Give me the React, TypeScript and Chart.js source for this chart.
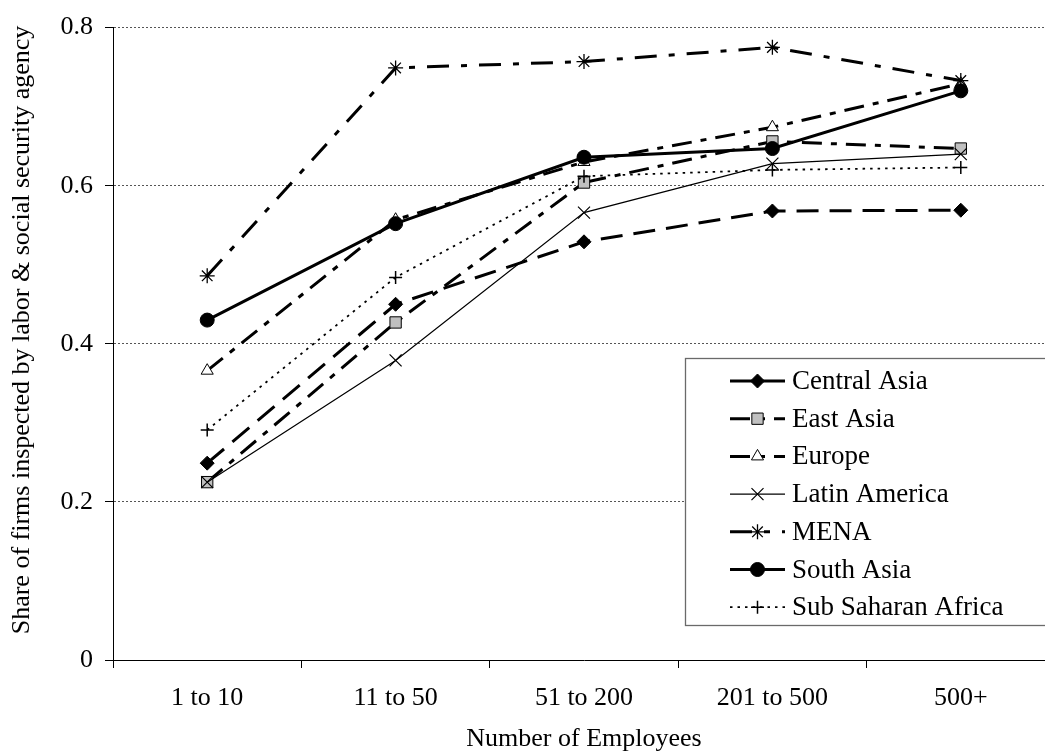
import React, { useEffect, useRef } from 'react';
import { Chart, registerables } from 'chart.js';
import { drawPoint } from 'chart.js/helpers';

Chart.register(...registerables);

const categories = ['1 to 10', '11 to 50', '51 to 200', '201 to 500', '500+'];
const yTickValues = [0, 0.2, 0.4, 0.6, 0.8];
const yTickLabels = ['0', '0.2', '0.4', '0.6', '0.8'];

const seriesNames = ['Central Asia', 'East Asia', 'Europe', 'Latin America', 'MENA', 'South Asia', 'Sub Saharan Africa'];
const centralAsia = [0.249, 0.45, 0.529, 0.568, 0.569];
const eastAsia = [0.225, 0.427, 0.604, 0.656, 0.647];
const europe = [0.366, 0.557, 0.63, 0.674, 0.729];
const latinAmerica = [0.225, 0.379, 0.566, 0.628, 0.64];
const mena = [0.486, 0.749, 0.757, 0.775, 0.733];
const southAsia = [0.43, 0.552, 0.636, 0.647, 0.72];
const subSaharanAfrica = [0.291, 0.484, 0.612, 0.62, 0.623];
const seriesValues = [centralAsia, eastAsia, europe, latinAmerica, mena, southAsia, subSaharanAfrica];

const xTitle = 'Number of Employees';
const yTitle = 'Share of firms inspected by labor & social security agency';

const FONT = "'Liberation Serif', 'Times New Roman', serif";
const FS = 26;

const styles = [
  { width: 3, dash: [22, 11], point: 'rectRot', radius: 7, fill: '#000', pbw: 1 },
  { width: 3, dash: [20, 9, 6, 9], point: 'rect', radius: 8, fill: '#c0c0c0', pbw: 1 },
  { width: 3, dash: [20, 9, 6, 9], point: 'triangle', radius: 7, fill: '#fff', pbw: 1 },
  { width: 1.2, dash: [], point: 'crossRot', radius: 8.5, fill: '#000', pbw: 1.2 },
  { width: 3, dash: [22, 12, 6, 12], point: 'star', radius: 7.5, fill: '#000', pbw: 1.3 },
  { width: 3, dash: [], point: 'circle', radius: 7, fill: '#000', pbw: 1 },
  { width: 1.8, dash: [2.5, 5], point: 'cross', radius: 6.5, fill: '#000', pbw: 1.5 },
];

const CANVAS_W = 1075;
const CANVAS_H = 755;

const yTitlePlugin = {
  id: 'yTitleText',
  afterDraw(chart: any) {
    const ctx = chart.ctx;
    ctx.save();
    ctx.translate(22, 330);
    ctx.rotate(-Math.PI / 2);
    ctx.fillStyle = '#000';
    ctx.font = `${FS}px ${FONT}`;
    ctx.textAlign = 'center';
    ctx.textBaseline = 'middle';
    ctx.fillText(yTitle, 0, 0);
    ctx.restore();
  },
};

const legendPlugin = {
  id: 'boxLegend',
  afterDraw(chart: any) {
    const ctx = chart.ctx;
    const bx = 685, by = 358, bw = 380, bh = 267;
    ctx.save();
    ctx.fillStyle = '#fff';
    ctx.fillRect(bx, by, bw, bh);
    ctx.strokeStyle = '#6a6a6a';
    ctx.lineWidth = 1.3;
    ctx.strokeRect(bx + 0.5, by + 0.5, bw, bh);
    const firstY = 381;
    const step = 37.7;
    chart.data.datasets.forEach((ds: any, i: number) => {
      const y = firstY + i * step;
      ctx.save();
      ctx.strokeStyle = '#000';
      ctx.lineWidth = ds.borderWidth;
      ctx.setLineDash(ds.borderDash || []);
      ctx.beginPath();
      ctx.moveTo(730, y);
      ctx.lineTo(785, y);
      ctx.stroke();
      ctx.restore();
      ctx.save();
      ctx.fillStyle = ds.pointBackgroundColor;
      ctx.strokeStyle = '#000';
      ctx.lineWidth = ds.pointBorderWidth;
      ctx.setLineDash([]);
      drawPoint(ctx, { pointStyle: ds.pointStyle, radius: ds.pointRadius, borderWidth: ds.pointBorderWidth, rotation: 0 }, 757.5, y);
      ctx.restore();
      ctx.fillStyle = '#000';
      ctx.font = `27px ${FONT}`;
      ctx.textBaseline = 'middle';
      ctx.textAlign = 'left';
      ctx.fillText(ds.label, 792, y + 1);
    });
    ctx.restore();
  },
};

export default function App() {
  const ref = useRef<HTMLCanvasElement | null>(null);
  useEffect(() => {
    if (!ref.current) return;
    const n = seriesNames.length;
    const chart = new Chart(ref.current, {
      type: 'line',
      data: {
        labels: categories,
        datasets: seriesNames.map((name, i) => ({
          label: name,
          data: seriesValues[i],
          borderColor: '#000',
          backgroundColor: '#000',
          borderWidth: styles[i].width,
          borderDash: styles[i].dash,
          borderCapStyle: 'butt',
          borderJoinStyle: 'miter',
          pointStyle: styles[i].point,
          pointRadius: styles[i].radius,
          pointHoverRadius: styles[i].radius,
          pointBackgroundColor: styles[i].fill,
          pointBorderColor: '#000',
          pointBorderWidth: styles[i].pbw,
          tension: 0,
          fill: false,
          order: n - i,
        })),
      },
      options: {
        responsive: false,
        animation: false,
        devicePixelRatio: 1,
        layout: { padding: { left: 0, top: 22, right: CANVAS_W - 1055, bottom: 0 } },
        plugins: { legend: { display: false }, tooltip: { enabled: false }, title: { display: false } },
        scales: {
          x: {
            type: 'category',
            offset: true,
            afterFit: (s: any) => { s.height = 95; },
            grid: { offset: true, drawOnChartArea: false, drawTicks: true, tickLength: 8, tickColor: '#000', tickWidth: 1 },
            border: { display: true, color: '#000', width: 1 },
            ticks: { color: '#000', font: { family: FONT, size: FS }, padding: 15, maxRotation: 0, autoSkip: false },
            title: { display: true, text: xTitle, color: '#000', font: { family: FONT, size: FS }, padding: { top: 0, bottom: 0 } },
          },
          y: {
            type: 'linear',
            min: 0,
            max: 0.8,
            afterFit: (s: any) => { s.width = 113; },
            afterBuildTicks: (s: any) => { s.ticks = yTickValues.map((v) => ({ value: v })); },
            grid: {
              drawTicks: true,
              tickLength: 8,
              tickColor: '#000',
              tickWidth: 1,
              lineWidth: 1,
              color: (c: any) => (c.tick && c.tick.value === 0 ? 'rgba(0,0,0,0)' : '#555'),
            },
            border: { display: true, color: '#000', width: 1, dash: [2, 2] },
            ticks: {
              color: '#000',
              font: { family: FONT, size: FS },
              padding: 12,
              callback: (v: any) => {
                const idx = yTickValues.findIndex((t) => Math.abs(t - Number(v)) < 1e-9);
                return idx >= 0 ? yTickLabels[idx] : '';
              },
            },
            title: { display: false },
          },
        },
      },
      plugins: [yTitlePlugin, legendPlugin],
    } as any);
    return () => chart.destroy();
  }, []);
  return (
    <div style={{ position: 'fixed', left: 0, top: 0, width: 1045, height: 755, overflow: 'hidden', background: '#fff' }}>
      <canvas ref={ref} width={CANVAS_W} height={CANVAS_H} style={{ display: 'block', width: CANVAS_W, height: CANVAS_H }} />
    </div>
  );
}
